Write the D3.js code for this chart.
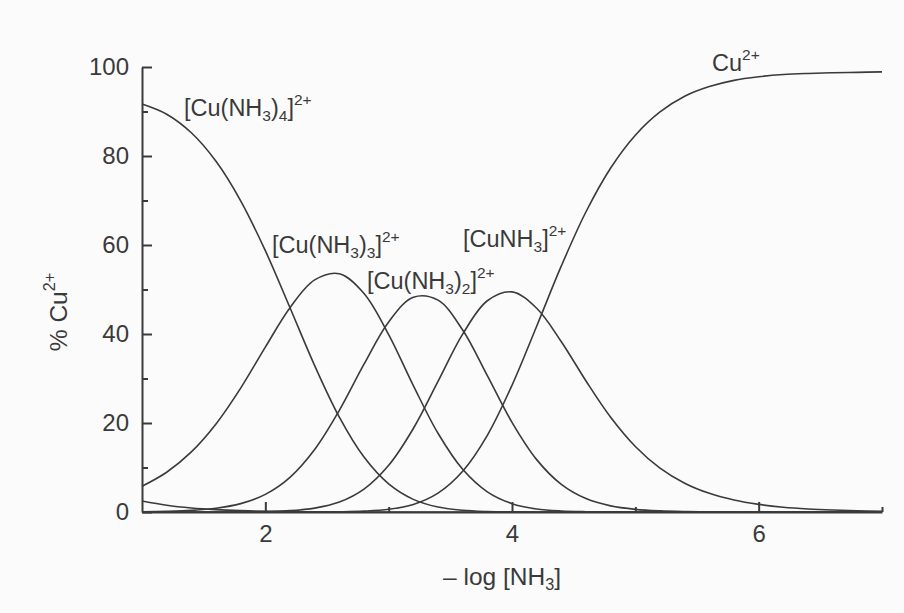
<!DOCTYPE html>
<html>
<head>
<meta charset="utf-8">
<script src="https://cdn.jsdelivr.net/npm/d3@7"></script>
<style>
  body { margin: 0; background: #fbfbfb; }
  text { font-family: "Liberation Sans", Arial, Helvetica, sans-serif; fill: #3a3a3a; }
</style>
</head>
<body>
<svg id="chart" width="904" height="613"></svg>
<script>
// –log[NH3] grid and the percentage of copper present as each species
const logNH3 = [1.0,1.2,1.4,1.6,1.8,2.0,2.2,2.4,2.6,2.8,3.0,3.2,3.4,3.6,3.8,4.0,4.2,4.4,4.6,4.8,5.0,5.2,5.4,5.6,5.8,6.0,6.2,6.4,6.6,6.8,7.0];
const pctCu      = [0,0,0,0,0,0,0,0,0.05,0.19,0.60,1.71,4.24,9.16,17.24,28.47,41.75,55.30,67.47,77.31,84.68,89.90,93.43,95.60,97.00,97.80,98.30,98.55,98.70,98.80,98.90];
const pctCuNH3   = [0,0,0,0.01,0.03,0.10,0.30,0.87,2.23,5.14,10.49,18.77,29.35,39.97,47.47,49.47,45.78,38.26,29.45,21.29,14.72,9.85,6.47,4.19,2.68,1.71,1.08,0.69,0.44,0.27,0.17];
const pctCuNH3_2 = [0.06,0.15,0.36,0.84,1.88,3.97,7.80,14.04,22.84,33.21,42.72,48.26,47.61,40.90,30.65,20.15,11.77,6.21,3.01,1.38,0.60,0.25,0.10,0.04,0,0,0,0,0,0,0];
const pctCuNH3_3 = [5.79,8.94,13.51,19.80,27.85,37.05,45.91,52.15,53.55,49.12,39.87,28.41,17.69,9.59,4.53,1.88,0.69,0.23,0.07,0.02,0,0,0,0,0,0,0,0,0,0,0];
const pctCuNH3_4 = [91.68,89.39,85.22,78.81,69.94,58.72,45.91,32.90,21.32,12.34,6.32,2.84,1.11,0.38,0.11,0.03,0,0,0,0,0,0,0,0,0,0,0,0,0,0,0];
const pctCuNH3_5 = [2.47,1.52,0.91,0.53,0.30,0.16,0.08,0.04,0.02,0.01,0,0,0,0,0,0,0,0,0,0,0,0,0,0,0,0,0,0,0,0,0];

const xMajorTicks = [2, 4, 6];
const xMinorTicks = [3, 5, 7];
const yMajorTicks = [0, 20, 40, 60, 80, 100];
const yMinorTicks = [10, 30, 50, 70, 90];

const svg = d3.select("#chart");
const ink = "#3a3a3a";

const x = d3.scaleLinear().domain([1, 7]).range([142, 882]);
const y = d3.scaleLinear().domain([0, 100]).range([512, 67]);

// species curves
const series = [pctCu, pctCuNH3, pctCuNH3_2, pctCuNH3_3, pctCuNH3_4, pctCuNH3_5];
const line = d3.line()
  .x((d, i) => x(logNH3[i]))
  .y(d => y(d))
  .curve(d3.curveCatmullRom.alpha(0.5));

svg.append("g")
  .selectAll("path")
  .data(series)
  .join("path")
  .attr("d", line)
  .attr("fill", "none")
  .attr("stroke", ink)
  .attr("stroke-width", 1.6);

// axes with inward ticks
const axisStyle = g => {
  g.select(".domain").attr("stroke", ink).attr("stroke-width", 2);
  g.selectAll(".tick line").attr("stroke", ink).attr("stroke-width", 2);
  g.selectAll(".tick text").attr("font-size", 24).attr("fill", ink)
    .attr("font-family", '"Liberation Sans", Arial, sans-serif');
};

svg.append("g").attr("transform", `translate(0,${y(0)})`)
  .call(d3.axisBottom(x).tickValues(xMajorTicks).tickSizeInner(-10).tickSizeOuter(0).tickPadding(13).tickFormat(d3.format("d")))
  .call(axisStyle);
svg.append("g").attr("transform", `translate(0,${y(0)})`)
  .call(d3.axisBottom(x).tickValues(xMinorTicks).tickSizeInner(-5).tickSizeOuter(0).tickFormat(""))
  .call(g => g.select(".domain").remove())
  .call(axisStyle);

svg.append("g").attr("transform", `translate(${x(1)},0)`)
  .call(d3.axisLeft(y).tickValues(yMajorTicks).tickSizeInner(-10).tickSizeOuter(0).tickPadding(13).tickFormat(d3.format("d")))
  .call(axisStyle);
svg.append("g").attr("transform", `translate(${x(1)},0)`)
  .call(d3.axisLeft(y).tickValues(yMinorTicks).tickSizeInner(-6).tickSizeOuter(0).tickFormat(""))
  .call(g => g.select(".domain").remove())
  .call(axisStyle);

// chemical formulas with sub/superscripts
function formula(parent, px, py, parts, size) {
  const t = parent.append("text").attr("x", px).attr("y", py).attr("font-size", size);
  let shift = 0;
  parts.forEach(p => {
    const target = p.sub ? size * 0.22 : p.sup ? -size * 0.48 : 0;
    const ts = t.append("tspan").attr("dy", target - shift).text(p.t);
    if (p.sub || p.sup) ts.attr("font-size", size * 0.66);
    shift = target;
  });
  return t;
}

const S = 23.5;
formula(svg, 184, 116, [{t:"[Cu(NH"},{t:"3",sub:1},{t:")"},{t:"4",sub:1},{t:"]"},{t:"2+",sup:1}], S);
formula(svg, 272, 253, [{t:"[Cu(NH"},{t:"3",sub:1},{t:")"},{t:"3",sub:1},{t:"]"},{t:"2+",sup:1}], S);
formula(svg, 367, 289, [{t:"[Cu(NH"},{t:"3",sub:1},{t:")"},{t:"2",sub:1},{t:"]"},{t:"2+",sup:1}], S);
formula(svg, 463, 247, [{t:"[CuNH"},{t:"3",sub:1},{t:"]"},{t:"2+",sup:1}], S);
formula(svg, 712, 71, [{t:"Cu"},{t:"2+",sup:1}], S);

// axis titles
formula(svg, 443, 585, [{t:"– log [NH"},{t:"3",sub:1},{t:"]"}], 24.5);
formula(svg.append("g").attr("transform", "translate(67,312) rotate(-90)"), 0, 0,
  [{t:"% Cu"},{t:"2+",sup:1}], 24.5).attr("text-anchor", "middle");
</script>
</body>
</html>
